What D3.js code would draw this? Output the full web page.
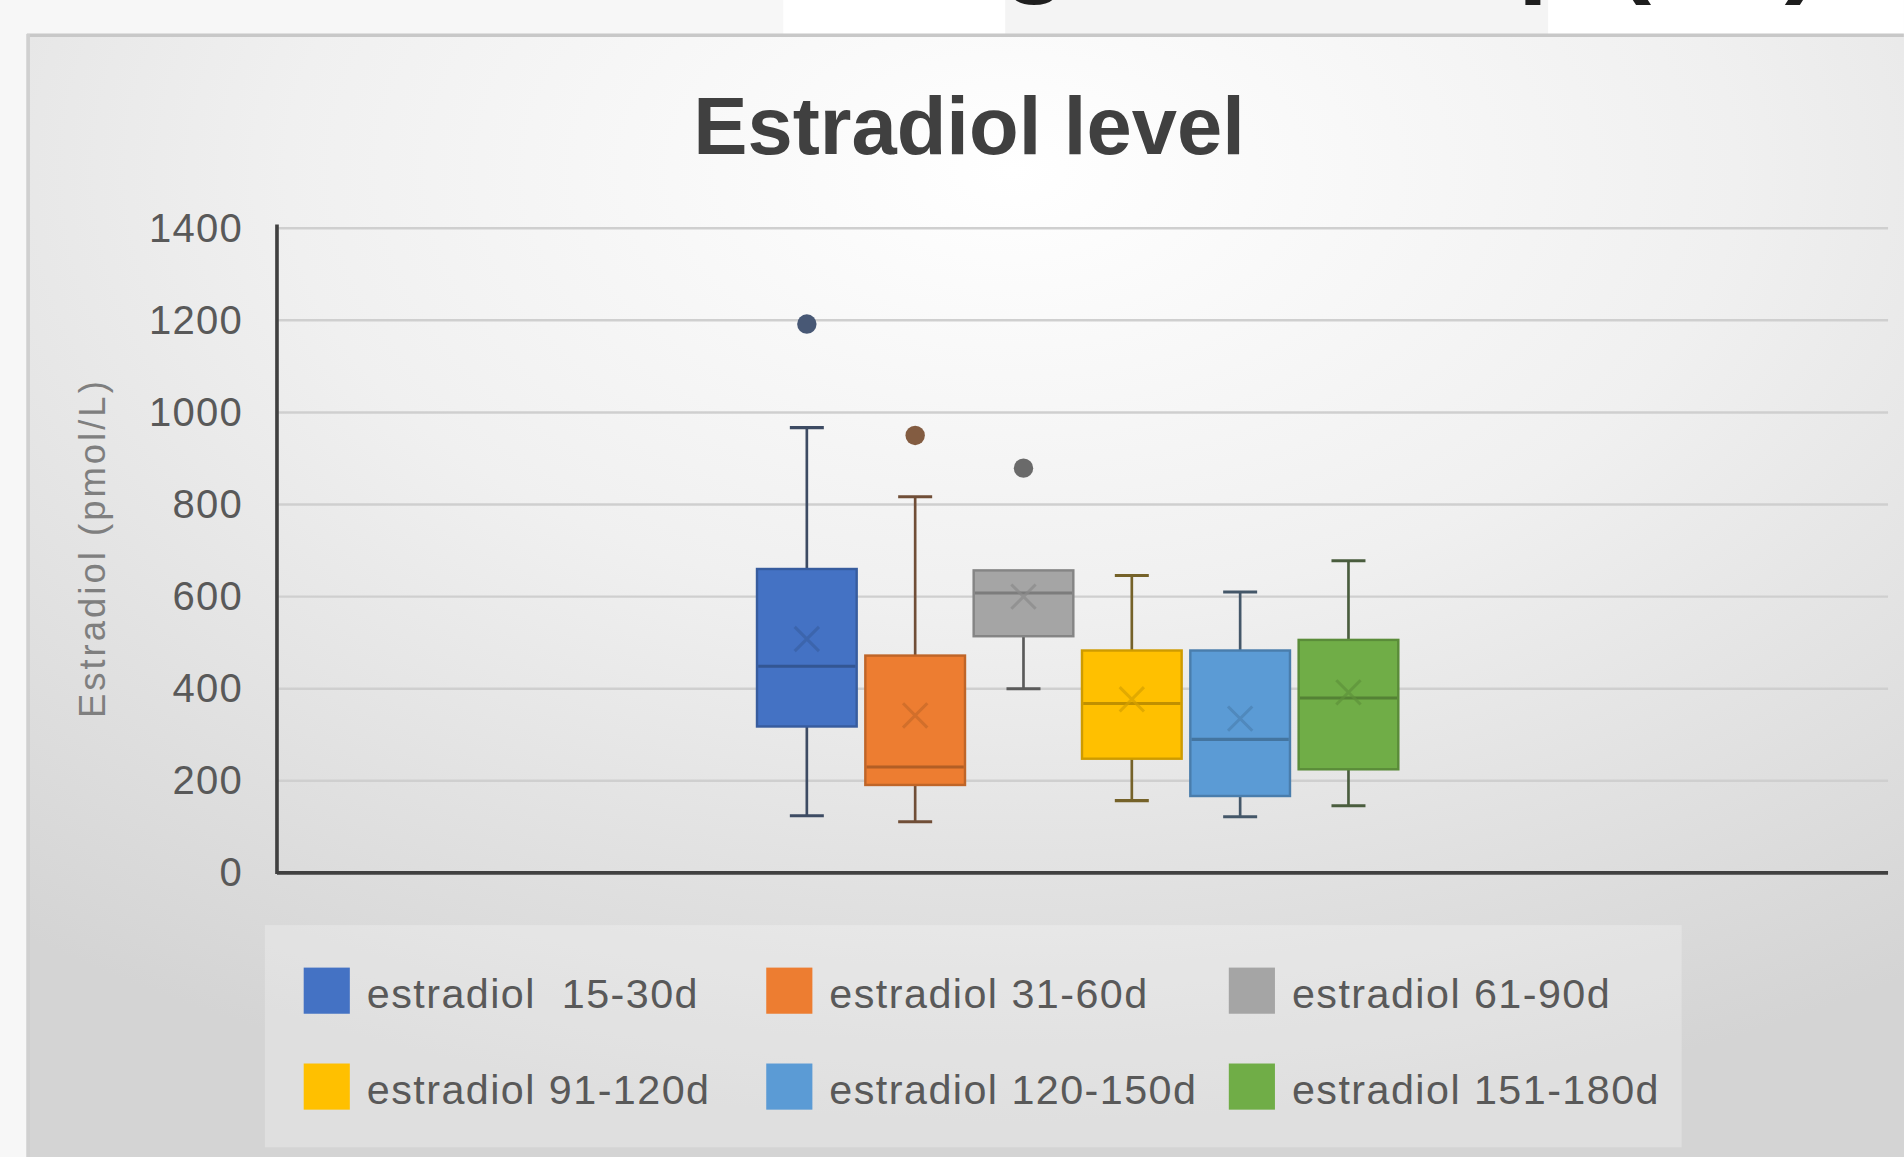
<!DOCTYPE html>
<html>
<head>
<meta charset="utf-8">
<script src="https://cdn.jsdelivr.net/npm/d3@7"></script>
<style>
  html, body { margin: 0; padding: 0; background: #f7f7f7; overflow: hidden; }
  svg { display: block; }
</style>
</head>
<body>
<svg width="1904" height="1157" viewBox="0 0 1568 953"></svg>
<script>
// box plot values (pmol/L)
const seriesNames = ["estradiol  15-30d", "estradiol 31-60d", "estradiol 61-90d",
                     "estradiol 91-120d", "estradiol 120-150d", "estradiol 151-180d"];
const seriesColors = ["#4472C4", "#ED7D31", "#A5A5A5", "#FFC000", "#5B9BD5", "#70AD47"];
const minValues    = [124, 111, 400, 157, 122, 146];
const q1Values     = [318, 191, 514, 248, 167, 225];
const medianValues = [449, 230, 608, 368, 290, 380];
const meanValues   = [508, 342, 600, 377, 335, 392];
const q3Values     = [660, 472, 657, 483, 483, 506];
const maxValues    = [967, 817, 657, 646, 610, 678];
const outliers     = [[1192], [950], [879], [], [], []];
const yTicks = [0, 200, 400, 600, 800, 1000, 1200, 1400];

const svg = d3.select("svg");
const font = "'Liberation Sans', Arial, sans-serif";

// top strip of the slide, cut off
svg.append("rect").attr("x", 645).attr("y", 0).attr("width", 183).attr("height", 30).attr("fill", "#ffffff");
svg.append("rect").attr("x", 828).attr("y", 0).attr("width", 447).attr("height", 30).attr("fill", "#f4f4f4");
svg.append("rect").attr("x", 1275).attr("y", 0).attr("width", 293).attr("height", 30).attr("fill", "#ffffff");
svg.append("text")
    .attr("x", 1500).attr("y", -15)
    .attr("text-anchor", "end")
    .style("font-family", font).style("font-weight", "bold").style("font-size", "90px")
    .attr("fill", "#1e1e1e")
    .text("Estradiol level during follow-up (E2)");

// chart panel with soft radial shading
const defs = svg.append("defs");
const grad = defs.append("radialGradient").attr("id", "panelGrad")
    .attr("cx", "52%").attr("cy", "12%").attr("r", "85%");
grad.append("stop").attr("offset", "0%").attr("stop-color", "#ffffff");
grad.append("stop").attr("offset", "45%").attr("stop-color", "#f0f0f0");
grad.append("stop").attr("offset", "100%").attr("stop-color", "#d4d4d4");

svg.append("rect")
    .attr("x", 22).attr("y", 28).attr("width", 1560).attr("height", 940)
    .attr("fill", "url(#panelGrad)");
svg.append("line").attr("x1", 22).attr("x2", 1568).attr("y1", 29).attr("y2", 29)
    .attr("stroke", "#c8c8c8").attr("stroke-width", 3);
svg.append("line").attr("x1", 23).attr("x2", 23).attr("y1", 28).attr("y2", 953)
    .attr("stroke", "#d0d0d0").attr("stroke-width", 3);

svg.append("text")
    .attr("x", 798).attr("y", 127)
    .attr("text-anchor", "middle")
    .style("font-family", font).style("font-weight", "bold").style("font-size", "67px")
    .attr("fill", "#404040")
    .text("Estradiol level");

// scales
const plot = { left: 228, right: 1555, top: 188, bottom: 719 };
const y = d3.scaleLinear().domain([0, 1400]).range([plot.bottom, plot.top]);
const xCat = d3.scaleBand().domain(["all"]).range([plot.left - 8, plot.right]).padding(0.433);
const xSer = d3.scaleBand().domain(seriesNames).range([0, xCat.bandwidth()]).paddingInner(0.08);

// gridlines
svg.append("g").selectAll("line").data(yTicks.filter(t => t > 0)).join("line")
    .attr("x1", plot.left).attr("x2", plot.right)
    .attr("y1", d => y(d)).attr("y2", d => y(d))
    .attr("stroke", "#cfcfcf").attr("stroke-width", 2);

// y axis labels
const yAxis = svg.append("g").attr("transform", `translate(${plot.left},0)`)
    .call(d3.axisLeft(y).tickValues(yTicks).tickFormat(d3.format("d")).tickSize(0).tickPadding(28));
yAxis.select(".domain").remove();
yAxis.selectAll("text")
    .style("font-family", font).style("font-size", "33px").style("letter-spacing", "1px")
    .attr("fill", "#595959");

// axis lines
svg.append("line").attr("x1", plot.left).attr("x2", plot.left)
    .attr("y1", plot.top - 3).attr("y2", plot.bottom + 1)
    .attr("stroke", "#404040").attr("stroke-width", 3);
svg.append("line").attr("x1", plot.left).attr("x2", plot.right)
    .attr("y1", plot.bottom).attr("y2", plot.bottom)
    .attr("stroke", "#404040").attr("stroke-width", 3);

svg.append("text")
    .attr("transform", `translate(86,${(plot.top + plot.bottom) / 2 - 2}) rotate(-90)`)
    .attr("text-anchor", "middle")
    .style("font-family", font).style("font-size", "30px").style("letter-spacing", "2.5px")
    .attr("fill", "#7f7f7f")
    .text("Estradiol (pmol/L)");

// boxes
const boxes = seriesNames.map((name, i) => ({
    name, color: seriesColors[i],
    min: minValues[i], q1: q1Values[i], med: medianValues[i], mean: meanValues[i],
    q3: q3Values[i], max: maxValues[i], out: outliers[i]
}));

const bw = xSer.bandwidth();
const g = svg.append("g").attr("transform", `translate(${xCat("all")},0)`);
const box = g.selectAll("g.box").data(boxes).join("g").attr("class", "box")
    .attr("transform", d => `translate(${xSer(d.name)},0)`);

const whiskerColor = d => d3.interpolateRgb(d.color, "#3a3a3a")(0.7);
const capW = 28;

// whiskers
box.append("line")
    .attr("x1", bw / 2).attr("x2", bw / 2)
    .attr("y1", d => y(d.q3)).attr("y2", d => y(d.max))
    .attr("stroke", whiskerColor).attr("stroke-width", 2.2);
box.append("line")
    .attr("x1", bw / 2).attr("x2", bw / 2)
    .attr("y1", d => y(d.q1)).attr("y2", d => y(d.min))
    .attr("stroke", whiskerColor).attr("stroke-width", 2.2);
box.filter(d => d.max > d.q3).append("line")
    .attr("x1", bw / 2 - capW / 2).attr("x2", bw / 2 + capW / 2)
    .attr("y1", d => y(d.max)).attr("y2", d => y(d.max))
    .attr("stroke", whiskerColor).attr("stroke-width", 2.5);
box.append("line")
    .attr("x1", bw / 2 - capW / 2).attr("x2", bw / 2 + capW / 2)
    .attr("y1", d => y(d.min)).attr("y2", d => y(d.min))
    .attr("stroke", whiskerColor).attr("stroke-width", 2.5);

box.append("rect")
    .attr("x", 0).attr("width", bw)
    .attr("y", d => y(d.q3)).attr("height", d => y(d.q1) - y(d.q3))
    .attr("fill", d => d.color)
    .attr("stroke", d => d3.color(d.color).darker(0.6))
    .attr("stroke-width", 2);

box.append("line")
    .attr("x1", 1).attr("x2", bw - 1)
    .attr("y1", d => y(d.med)).attr("y2", d => y(d.med))
    .attr("stroke", d => d3.color(d.color).darker(0.8)).attr("stroke-width", 2.5);

// mean markers
const mk = 10;
box.append("path")
    .attr("d", d => `M${bw / 2 - mk},${y(d.mean) - mk}L${bw / 2 + mk},${y(d.mean) + mk}` +
                    `M${bw / 2 - mk},${y(d.mean) + mk}L${bw / 2 + mk},${y(d.mean) - mk}`)
    .attr("stroke", d => d3.color(d.color).darker(0.5)).attr("stroke-width", 2.5)
    .attr("fill", "none").attr("opacity", 0.7);

// outliers
box.selectAll("circle").data(d => d.out.map(v => ({ v, color: d.color }))).join("circle")
    .attr("cx", bw / 2).attr("cy", d => y(d.v)).attr("r", 8)
    .attr("fill", d => d3.interpolateRgb(d.color, "#4a4a4a")(0.65));

// legend
svg.append("rect")
    .attr("x", 218).attr("y", 762).attr("width", 1167).attr("height", 183)
    .attr("fill", "#ffffff").attr("opacity", 0.25);

const legend = svg.append("g").selectAll("g").data(seriesNames).join("g")
    .attr("transform", (d, i) => `translate(${250 + (i % 3) * 381},${797 + Math.floor(i / 3) * 79})`);
legend.append("rect")
    .attr("width", 38).attr("height", 38)
    .attr("fill", (d, i) => seriesColors[i]);
legend.append("text")
    .attr("x", 52).attr("y", 33)
    .style("font-family", font).style("font-size", "34px").style("letter-spacing", "1.2px")
    .style("white-space", "pre")
    .attr("xml:space", "preserve")
    .attr("fill", "#595959")
    .text(d => d);
</script>
</body>
</html>
